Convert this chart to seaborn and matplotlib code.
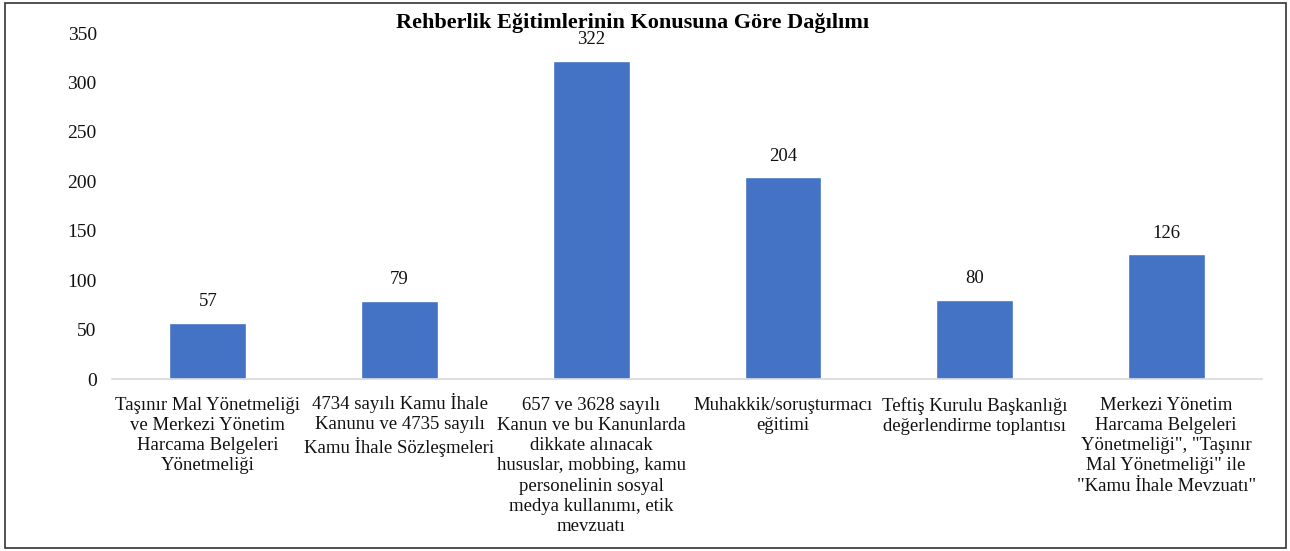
import matplotlib
matplotlib.use("Agg")
import matplotlib.pyplot as plt
import matplotlib.transforms as mtransforms
import seaborn as sns
import pandas as pd
from matplotlib.patches import Rectangle

categories = [
    "Taşınır Mal Yönetmeliği\nve Merkezi Yönetim\nHarcama Belgeleri\nYönetmeliği",
    "4734 sayılı Kamu İhale\nKanunu ve 4735 sayılı\nKamu İhale Sözleşmeleri",
    "657 ve 3628 sayılı\nKanun ve bu Kanunlarda\ndikkate alınacak\nhususlar, mobbing, kamu\npersonelinin sosyal\nmedya kullanımı, etik\nmevzuatı",
    "Muhakkik/soruşturmacı\neğitimi",
    "Teftiş Kurulu Başkanlığı\ndeğerlendirme toplantısı",
    "Merkezi Yönetim\nHarcama Belgeleri\nYönetmeliği\", \"Taşınır\nMal Yönetmeliği\" ile\n\"Kamu İhale Mevzuatı\"",
]
values = [57, 79, 322, 204, 80, 126]
yticks = [0, 50, 100, 150, 200, 250, 300, 350]
title = "Rehberlik Eğitimlerinin Konusuna Göre Dağılımı"

sns.set_theme(style="white")
plt.rcParams["font.family"] = ["Liberation Serif", "DejaVu Serif"]

df = pd.DataFrame({"cat": categories, "val": values})

fig = plt.figure(figsize=(12.9, 5.51), dpi=100)
ax = fig.add_axes([112 / 1290, 1 - 379 / 551, (1262 - 112) / 1290, (379 - 33) / 551])
sns.barplot(data=df, x="cat", y="val", color="#4472C4", width=0.4, saturation=1, ax=ax)

ax.set_ylim(0, 350)
ax.set_yticks(yticks)
ax.set_yticklabels([str(v) for v in yticks], fontsize=14, color="#111111")
ax.set_xlim(-0.5, len(categories) - 0.5)
ax.tick_params(axis="x", length=0, pad=13)
ax.tick_params(axis="y", length=0, pad=11)
ax.set_xticks(range(len(categories)))
ax.set_xticklabels(categories, fontsize=13.5, color="#111111", linespacing=1.24)
# first line with a dotted capital I is taller; lift that label so first lines align
for lab in ax.get_xticklabels():
    first = lab.get_text().split("\n")[0]
    if "İ" in first:
        lab.set_transform(lab.get_transform() +
                          mtransforms.ScaledTranslation(0, 2.8 / 72, fig.dpi_scale_trans))
ax.set_xlabel("")
ax.set_ylabel("")
for s in ["top", "right", "left"]:
    ax.spines[s].set_visible(False)
ax.spines["bottom"].set_color("#D9D9D9")
ax.spines["bottom"].set_linewidth(1.2)

for i, v in enumerate(values):
    ax.annotate(str(v), (i, v), xytext=(0, 9), textcoords="offset points",
                ha="center", va="bottom", fontsize=13.5, color="#111111")

fig.text(633 / 1290, 1 - 23 / 551, title, ha="center", va="center",
         fontsize=16, fontweight="bold", color="black")

fig.patches.append(Rectangle((5 / 1290, 3 / 551), 1281 / 1290, 545 / 551,
                             transform=fig.transFigure, fill=False,
                             edgecolor="#333333", linewidth=1.2))

fig.savefig("out.png", dpi=100)
